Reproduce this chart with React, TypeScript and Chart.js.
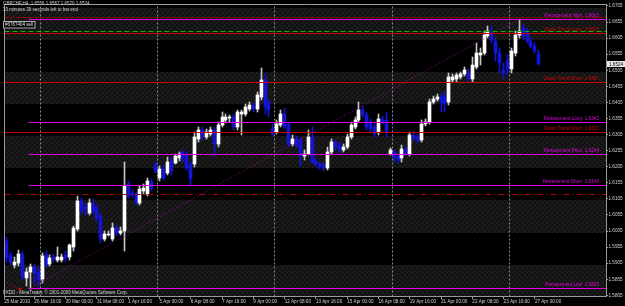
import React, { useEffect, useRef } from 'react';
import { Chart, registerables } from 'chart.js';
Chart.register(...registerables);

const symbolTitle = 'GBPCHF,H4  1.6556 1.6567 1.6520 1.6524';
const timerText = '33 minutes 39 seconds left to bar end';
const copyrightText = 'FXDD - MetaTrader, \u00a9 2001-2009 MetaQuotes Software Corp.';
const orderText = '#6767404 sell';

const openP = [1.5975,1.5929,1.5898,1.5904,1.5935,1.5858,1.5877,1.5892,1.5879,1.5855,1.5929,1.5901,1.5923,1.5916,1.5914,1.5929,1.5923,1.5954,1.6012,1.6098,1.6080,1.6061,1.6089,1.6077,1.6052,1.5981,1.5994,1.5981,1.6015,1.6000,1.6006,1.6151,1.6123,1.6120,1.6092,1.6129,1.6120,1.6157,1.6212,1.6169,1.6197,1.6184,1.6221,1.6218,1.6231,1.6252,1.6243,1.6215,1.6212,1.6292,1.6320,1.6298,1.6307,1.6320,1.6277,1.6335,1.6351,1.6357,1.6360,1.6329,1.6369,1.6369,1.6384,1.6397,1.6384,1.6421,1.6474,1.6406,1.6323,1.6314,1.6335,1.6369,1.6338,1.6277,1.6292,1.6289,1.6237,1.6246,1.6298,1.6224,1.6215,1.6212,1.6200,1.6252,1.6283,1.6274,1.6258,1.6267,1.6298,1.6329,1.6351,1.6381,1.6366,1.6344,1.6329,1.6314,1.6354,1.6351,1.6246,1.6252,1.6237,1.6231,1.6261,1.6246,1.6304,1.6298,1.6289,1.6338,1.6344,1.6406,1.6415,1.6421,1.6421,1.6406,1.6474,1.6477,1.6483,1.6492,1.6498,1.6477,1.6514,1.6554,1.6560,1.6612,1.6622,1.6597,1.6560,1.6505,1.6535,1.6508,1.6560,1.6615,1.6637,1.6628,1.6597,1.6582,1.6556];
const closeP = [1.5920,1.5908,1.5910,1.5935,1.5861,1.5879,1.5892,1.5874,1.5852,1.5926,1.5898,1.5920,1.5914,1.5923,1.5923,1.5920,1.5960,1.6015,1.6098,1.6067,1.6074,1.6092,1.6067,1.6046,1.5981,1.5997,1.5997,1.6015,1.6000,1.6006,1.6144,1.6114,1.6117,1.6092,1.6135,1.6138,1.6160,1.6138,1.6191,1.6197,1.6169,1.6221,1.6191,1.6237,1.6246,1.6231,1.6200,1.6166,1.6298,1.6320,1.6298,1.6314,1.6320,1.6277,1.6335,1.6360,1.6360,1.6360,1.6329,1.6375,1.6375,1.6391,1.6397,1.6384,1.6428,1.6474,1.6391,1.6381,1.6307,1.6338,1.6369,1.6329,1.6277,1.6292,1.6274,1.6237,1.6246,1.6298,1.6221,1.6212,1.6203,1.6200,1.6252,1.6283,1.6267,1.6258,1.6267,1.6298,1.6335,1.6351,1.6381,1.6366,1.6329,1.6323,1.6307,1.6354,1.6344,1.6314,1.6258,1.6231,1.6227,1.6261,1.6246,1.6304,1.6292,1.6289,1.6338,1.6344,1.6406,1.6415,1.6421,1.6406,1.6400,1.6483,1.6483,1.6489,1.6492,1.6505,1.6477,1.6520,1.6560,1.6560,1.6615,1.6628,1.6600,1.6560,1.6529,1.6498,1.6508,1.6566,1.6615,1.6628,1.6612,1.6597,1.6582,1.6566,1.6524];
const highP = [1.5987,1.5941,1.5923,1.5947,1.5944,1.5889,1.5901,1.5901,1.5889,1.5938,1.5944,1.5929,1.5935,1.5954,1.5932,1.5944,1.5966,1.6021,1.6114,1.6107,1.6092,1.6104,1.6104,1.6086,1.6061,1.6006,1.6006,1.6030,1.6024,1.6018,1.6221,1.6160,1.6132,1.6126,1.6144,1.6151,1.6169,1.6166,1.6221,1.6206,1.6209,1.6234,1.6234,1.6246,1.6252,1.6258,1.6252,1.6221,1.6314,1.6329,1.6329,1.6323,1.6329,1.6329,1.6344,1.6375,1.6369,1.6366,1.6369,1.6381,1.6381,1.6400,1.6406,1.6406,1.6437,1.6511,1.6492,1.6412,1.6338,1.6351,1.6381,1.6388,1.6344,1.6304,1.6301,1.6295,1.6258,1.6320,1.6329,1.6231,1.6221,1.6218,1.6267,1.6292,1.6289,1.6283,1.6277,1.6307,1.6344,1.6360,1.6406,1.6394,1.6375,1.6354,1.6338,1.6369,1.6363,1.6375,1.6264,1.6258,1.6246,1.6274,1.6270,1.6314,1.6314,1.6307,1.6351,1.6354,1.6415,1.6424,1.6431,1.6431,1.6437,1.6498,1.6492,1.6498,1.6501,1.6514,1.6508,1.6545,1.6591,1.6575,1.6628,1.6643,1.6643,1.6606,1.6575,1.6529,1.6554,1.6575,1.6628,1.6663,1.6646,1.6637,1.6606,1.6591,1.6567];
const lowP = [1.5908,1.5898,1.5889,1.5895,1.5852,1.5833,1.5825,1.5840,1.5830,1.5842,1.5892,1.5895,1.5908,1.5910,1.5908,1.5908,1.5916,1.5944,1.6006,1.6058,1.6052,1.6055,1.6061,1.6037,1.5969,1.5975,1.5988,1.5975,1.5991,1.5994,1.5944,1.6107,1.6110,1.6086,1.6086,1.6120,1.6114,1.6129,1.6184,1.6160,1.6163,1.6178,1.6178,1.6212,1.6224,1.6221,1.6194,1.6144,1.6203,1.6283,1.6289,1.6292,1.6301,1.6237,1.6267,1.6329,1.6341,1.6344,1.6320,1.6320,1.6304,1.6363,1.6378,1.6375,1.6375,1.6412,1.6369,1.6360,1.6301,1.6307,1.6329,1.6323,1.6267,1.6270,1.6264,1.6206,1.6227,1.6240,1.6215,1.6206,1.6197,1.6191,1.6194,1.6246,1.6258,1.6249,1.6252,1.6261,1.6292,1.6323,1.6344,1.6360,1.6320,1.6314,1.6298,1.6304,1.6338,1.6298,1.6240,1.6221,1.6218,1.6221,1.6237,1.6237,1.6286,1.6280,1.6283,1.6332,1.6338,1.6400,1.6409,1.6375,1.6375,1.6397,1.6468,1.6468,1.6477,1.6486,1.6468,1.6468,1.6508,1.6523,1.6554,1.6606,1.6591,1.6535,1.6498,1.6477,1.6489,1.6498,1.6551,1.6606,1.6603,1.6591,1.6575,1.6560,1.6520];

const xTickIndex = [-0.7, 7, 15, 23, 31, 39, 47, 55, 63, 71, 79, 87, 95, 103, 111, 119, 127, 135];
const xTickLabels = ['25 Mar 2010', '26 Mar 16:00', '30 Mar 00:00', '31 Mar 08:00', '1 Apr 16:00', '5 Apr 00:00', '6 Apr 08:00', '7 Apr 16:00', '9 Apr 00:00', '12 Apr 08:00', '13 Apr 16:00', '15 Apr 00:00', '16 Apr 08:00', '19 Apr 16:00', '21 Apr 00:00', '22 Apr 08:00', '23 Apr 16:00', '27 Apr 00:00'];
const yTickValues = [1.6705, 1.6655, 1.6605, 1.6555, 1.6505, 1.6455, 1.6405, 1.6355, 1.6305, 1.6255, 1.6205, 1.6155, 1.6105, 1.6055, 1.6005, 1.5955, 1.5905, 1.5855, 1.5805];
const weekBreaks = [8.5, 38.5, 68.5, 98.5, 128.5];
const bandStarts = [1.58, 1.60, 1.62, 1.64, 1.66];
const bandHeight = 0.01;

const levelNames = ['Retracement High', 'Down Trend Long', 'Down Trend Short', 'Retracement Long', 'Down Trend Short', 'Retracement Pivot', 'Retracement Short', 'Retracement Low'];
const levelValues = [1.6663, 1.6619, 1.6467, 1.6342, 1.6313, 1.6244, 1.6146, 1.5825];
const levelIsRetrace = [true, false, false, true, false, true, true, true];
const retraceStartIdx = 5.5;
const redDashedLevel = 1.6668;
const greenDashedLevel = 1.6627;
const dashDotLevel = 1.6119;
const trendIdx = [5.5, 131];
const trendVal = [1.5825, 1.6663];
const stopIdx = [-0.76, 3.3];
const stopVal = [1.5847, 1.5825];

const X_MIN = -0.76;
const X_MAX = 153.18;
const Y_MIN = 1.58029;
const Y_MAX = 1.67112;

const FONT = '"Liberation Sans", Arial, sans-serif';
const TXT = '#d2d2d2';
const MAGENTA = '#e000e0';
const RED = '#c80000';
const BLUE = '#1414d8';

function makeStipple(): CanvasPattern | string {
  const c = document.createElement('canvas');
  c.width = 5;
  c.height = 5;
  const g = c.getContext('2d');
  if (!g) return '#181818';
  g.fillStyle = '#141414';
  g.fillRect(0, 0, 5, 5);
  g.fillStyle = '#272727';
  [[0, 0], [3, 1], [1, 3], [4, 4], [2, 2]].forEach(([a, b]) => g.fillRect(a, b, 1, 1));
  g.fillStyle = '#0c0c0c';
  [[2, 0], [4, 2], [0, 4]].forEach(([a, b]) => g.fillRect(a, b, 1, 1));
  return g.createPattern(c, 'repeat') || '#181818';
}

export default function App() {
  const ref = useRef<HTMLCanvasElement>(null);

  useEffect(() => {
    const canvas = ref.current;
    if (!canvas) return;
    const stipple = makeStipple();
    const idx = openP.map((_, i) => i);
    const isUp = (i: number) => closeP[i] >= openP[i];

    const lineDs = (pts: { x: number; y: number }[], color: string, dash: number[], order: number, extra: any = {}) => ({
      type: 'line',
      data: pts,
      borderColor: color,
      borderWidth: 1,
      borderDash: dash,
      pointRadius: 0,
      fill: false,
      tension: 0,
      order,
      crisp: true,
      ...extra,
    });

    const datasets: any[] = [];
    weekBreaks.forEach((b) => datasets.push(lineDs([{ x: b, y: Y_MIN }, { x: b, y: Y_MAX }], '#8a8a8a', [2, 2], 9)));
    datasets.push({
      type: 'bar',
      data: idx.map((i) => ({ x: i, y: [lowP[i], highP[i]] })),
      backgroundColor: idx.map((i) => (isUp(i) ? '#c4c4c4' : BLUE)),
      borderWidth: 0,
      barThickness: 1,
      grouped: false,
      order: 3,
    });
    datasets.push({
      type: 'bar',
      data: idx.map((i) => ({ x: i, y: [openP[i], closeP[i]] })),
      backgroundColor: idx.map((i) => (isUp(i) ? '#ffffff' : BLUE)),
      borderWidth: 0,
      barThickness: 3,
      minBarLength: 1,
      grouped: false,
      order: 2,
    });
    levelValues.forEach((v, k) => {
      datasets.push(lineDs([{ x: levelIsRetrace[k] ? retraceStartIdx : X_MIN, y: v }, { x: X_MAX, y: v }], levelIsRetrace[k] ? MAGENTA : RED, [], 1));
    });
    datasets.push(lineDs([{ x: X_MIN, y: redDashedLevel }, { x: X_MAX, y: redDashedLevel }], '#a00000', [4, 2], 1));
    datasets.push(lineDs([{ x: X_MIN, y: greenDashedLevel }, { x: X_MAX, y: greenDashedLevel }], '#00c000', [5, 3], 1));
    datasets.push(lineDs([{ x: X_MIN, y: dashDotLevel }, { x: X_MAX, y: dashDotLevel }], '#b00000', [6, 3, 1, 3], 1));
    datasets.push(lineDs(trendIdx.map((x, k) => ({ x, y: trendVal[k] })), '#a000a0', [1, 2], 1, { crisp: false }));
    datasets.push(lineDs(stopIdx.map((x, k) => ({ x, y: stopVal[k] })), '#c00000', [1, 2], 1, {
      crisp: false,
      pointRadius: [0, 1.5],
      pointBackgroundColor: '#e00000',
      pointBorderWidth: 0,
    }));

    const crispPlugin = {
      id: 'mtCrisp',
      afterDatasetsUpdate(chart: any) {
        chart.data.datasets.forEach((ds: any, di: number) => {
          const meta = chart.getDatasetMeta(di);
          if (ds.type === 'bar') {
            meta.data.forEach((el: any) => {
              el.x = Math.floor(el.x) + 0.5;
              const y = Math.round(el.y);
              let base = Math.round(el.base);
              if (Math.abs(base - y) < 1) base = y + (base >= el.y ? 1 : -1);
              el.y = y;
              el.base = base;
              el.height = base - y;
            });
          } else if (ds.crisp) {
            meta.data.forEach((el: any) => {
              el.x = Math.floor(el.x) + 0.5;
              el.y = Math.floor(el.y) + 0.5;
            });
          }
        });
      },
    };

    const bgPlugin = {
      id: 'mtBackground',
      beforeDraw(chart: any) {
        const { ctx, chartArea: a, scales } = chart;
        ctx.save();
        ctx.fillStyle = '#000000';
        ctx.fillRect(0, 0, chart.width, chart.height);
        ctx.beginPath();
        ctx.rect(a.left, a.top, a.right - a.left, a.bottom - a.top);
        ctx.clip();
        ctx.fillStyle = stipple;
        bandStarts.forEach((b) => {
          const y1 = Math.round(scales.y.getPixelForValue(b + bandHeight));
          const y2 = Math.round(scales.y.getPixelForValue(b));
          ctx.fillRect(a.left, y1, a.right - a.left, y2 - y1);
        });
        ctx.restore();
      },
    };

    const overlayPlugin = {
      id: 'mtOverlay',
      afterDraw(chart: any) {
        const { ctx, chartArea: a, scales } = chart;
        ctx.save();
        ctx.strokeStyle = '#9a9a9a';
        ctx.lineWidth = 1;
        ctx.beginPath();
        ctx.moveTo(a.left + 0.5, a.bottom);
        ctx.lineTo(a.left + 0.5, a.top + 0.5);
        ctx.lineTo(a.right, a.top + 0.5);
        ctx.stroke();

        ctx.font = `4.7px ${FONT}`;
        ctx.textBaseline = 'bottom';
        ctx.textAlign = 'right';
        levelValues.forEach((v, k) => {
          const y = Math.floor(scales.y.getPixelForValue(v));
          ctx.fillStyle = levelIsRetrace[k] ? MAGENTA : '#e00000';
          ctx.fillText(`${levelNames[k]}  ${v.toFixed(4)}`, a.right - 7, y - 0.5);
        });

        ctx.textAlign = 'left';
        ctx.textBaseline = 'top';
        ctx.fillStyle = TXT;
        ctx.font = `4.5px ${FONT}`;
        ctx.fillText(symbolTitle, 3, 2);
        ctx.fillText(timerText, 3, 7.5);
        ctx.fillText(copyrightText, 3, 290.5);

        ctx.fillStyle = '#000000';
        ctx.fillRect(3, 21.5, 32, 7);
        ctx.strokeStyle = '#b0b0b0';
        ctx.strokeRect(3.5, 21.5, 31.5, 6.5);
        ctx.fillStyle = '#e6e6e6';
        ctx.textBaseline = 'middle';
        ctx.fillText(orderText, 5, 25);

        const last = closeP[closeP.length - 1];
        const py = scales.y.getPixelForValue(last);
        ctx.fillStyle = '#e8e8e8';
        ctx.fillRect(607, Math.round(py - 3), 18, 6);
        ctx.fillStyle = '#000000';
        ctx.font = `4.6px ${FONT}`;
        ctx.fillText(last.toFixed(4), 609, py + 0.3);
        ctx.restore();
      },
    };

    const chart = new Chart(canvas, {
      type: 'bar',
      data: { datasets },
      options: {
        responsive: false,
        maintainAspectRatio: false,
        animation: false,
        devicePixelRatio: 1,
        events: [],
        layout: { padding: { left: 1, top: 1, right: 0, bottom: 0 } },
        plugins: { legend: { display: false }, tooltip: { enabled: false } },
        scales: {
          x: {
            type: 'linear',
            min: X_MIN,
            max: X_MAX,
            offset: false,
            afterBuildTicks: (s: any) => {
              s.ticks = xTickIndex.map((v) => ({ value: v }));
            },
            afterFit: (s: any) => {
              s.height = 10;
              s.paddingLeft = 0;
              s.paddingRight = 0;
            },
            ticks: {
              autoSkip: false,
              maxRotation: 0,
              minRotation: 0,
              align: 'start',
              padding: 0,
              color: TXT,
              font: { family: FONT, size: 4.6 },
              callback: (_v: any, i: number) => xTickLabels[i] ?? '',
            },
            grid: { offset: false, drawOnChartArea: false, drawTicks: true, tickLength: 3, color: '#9a9a9a' },
            border: { display: true, color: '#9a9a9a' },
          },
          y: {
            type: 'linear',
            position: 'right',
            min: Y_MIN,
            max: Y_MAX,
            beginAtZero: false,
            afterBuildTicks: (s: any) => {
              s.ticks = yTickValues.map((v) => ({ value: v }));
            },
            afterFit: (s: any) => {
              s.width = 19;
              s.paddingTop = 0;
              s.paddingBottom = 0;
            },
            ticks: {
              autoSkip: false,
              padding: 0.5,
              color: TXT,
              font: { family: FONT, size: 4.6 },
              callback: (v: any) => Number(v).toFixed(4),
            },
            grid: { drawOnChartArea: false, drawTicks: true, tickLength: 2, color: '#9a9a9a' },
            border: { display: true, color: '#9a9a9a' },
          },
        },
      } as any,
      plugins: [crispPlugin, bgPlugin, overlayPlugin],
    });
    return () => chart.destroy();
  }, []);

  return (
    <div style={{ position: 'fixed', left: 0, top: 0, width: 625, height: 306, background: '#000' }}>
      <canvas ref={ref} width={625} height={306} style={{ display: 'block', width: 625, height: 306 }} />
    </div>
  );
}
